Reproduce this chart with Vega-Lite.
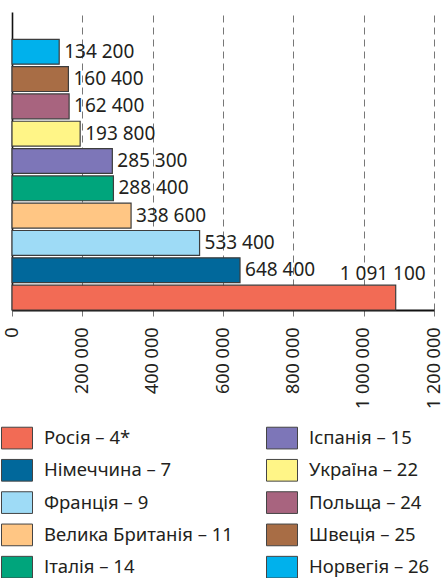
{
  "$schema": "https://vega.github.io/schema/vega-lite/v6.json",
  "autosize": {"type": "none"},
  "padding": {"left": 12, "top": 12, "right": 7, "bottom": 268},
  "width": 422,
  "height": 298,
  "config": {
    "view": {"stroke": null},
    "font": "Noto Sans",
    "locale": {"number": {"decimal": ",", "thousands": " ", "grouping": [3], "currency": ["", ""]}}
  },
  "data": {
    "values": [
      {"name": "Росія – 4*", "value": 1091100},
      {"name": "Німеччина – 7", "value": 648400},
      {"name": "Франція – 9", "value": 533400},
      {"name": "Велика Британія – 11", "value": 338600},
      {"name": "Італія – 14", "value": 288400},
      {"name": "Іспанія – 15", "value": 285300},
      {"name": "Україна – 22", "value": 193800},
      {"name": "Польща – 24", "value": 162400},
      {"name": "Швеція – 25", "value": 160400},
      {"name": "Норвегія – 26", "value": 134200}
    ]
  },
  "encoding": {
    "y": {
      "field": "name",
      "type": "nominal",
      "scale": {
        "domain": [" ", "Норвегія – 26", "Швеція – 25", "Польща – 24", "Україна – 22", "Іспанія – 15", "Італія – 14", "Велика Британія – 11", "Франція – 9", "Німеччина – 7", "Росія – 4*"],
        "paddingInner": 0.09,
        "paddingOuter": 0
      },
      "axis": {"labels": false, "ticks": false, "title": null, "domainColor": "#111", "domainWidth": 1.6, "grid": false}
    },
    "x": {
      "field": "value",
      "type": "quantitative",
      "scale": {"domain": [0, 1200000], "nice": false},
      "axis": {
        "values": [0, 200000, 400000, 600000, 800000, 1000000, 1200000],
        "format": ",d",
        "title": null,
        "labelAngle": -90,
        "labelFontSize": 18,
        "labelColor": "#231F20",
        "labelPadding": 11,
        "labelOffset": 0,
        "tickSize": 6,
        "tickColor": "#777",
        "domainColor": "#111",
        "domainWidth": 1.8,
        "grid": true,
        "gridDash": [7, 5],
        "gridColor": "#777",
        "gridWidth": 1
      }
    }
  },
  "layer": [
    {
      "mark": {"type": "bar", "stroke": "#3d3d3d", "strokeWidth": 1.2},
      "encoding": {
        "color": {
          "field": "name",
          "type": "nominal",
          "scale": {
            "domain": ["Росія – 4*", "Німеччина – 7", "Франція – 9", "Велика Британія – 11", "Італія – 14", "Іспанія – 15", "Україна – 22", "Польща – 24", "Швеція – 25", "Норвегія – 26"],
            "range": ["#F26B55", "#01689B", "#9EDBF6", "#FFC684", "#00A57C", "#7D76B8", "#FFF587", "#A8647F", "#A86D45", "#00B1EC"]
          },
          "legend": {
            "title": null,
            "orient": "none",
            "legendX": -11,
            "legendY": 410,
            "columns": 2,
            "columnPadding": 31,
            "rowPadding": 3.3,
            "padding": 0,
            "symbolType": "M-1,-0.7L1,-0.7L1,0.7L-1,0.7Z",
            "symbolSize": 961,
            "symbolStrokeColor": "#444",
            "symbolStrokeWidth": 1,
            "symbolOpacity": 1,
            "labelFont": "Noto Sans",
            "labelFontSize": 18.5,
            "labelColor": "#231F20",
            "labelOffset": 11,
            "labelLimit": 300
          }
        }
      }
    },
    {
      "transform": [{"filter": "datum.value < 1000000"}],
      "mark": {"type": "text", "align": "left", "baseline": "middle", "dx": 5, "fontSize": 19, "color": "#231F20"},
      "encoding": {"text": {"field": "value", "type": "quantitative", "format": ",d"}}
    },
    {
      "transform": [{"filter": "datum.value >= 1000000"}],
      "mark": {"type": "text", "align": "right", "baseline": "alphabetic", "dx": 30, "dy": -18, "fontSize": 19, "color": "#231F20"},
      "encoding": {"text": {"field": "value", "type": "quantitative", "format": ",d"}}
    }
  ]
}
